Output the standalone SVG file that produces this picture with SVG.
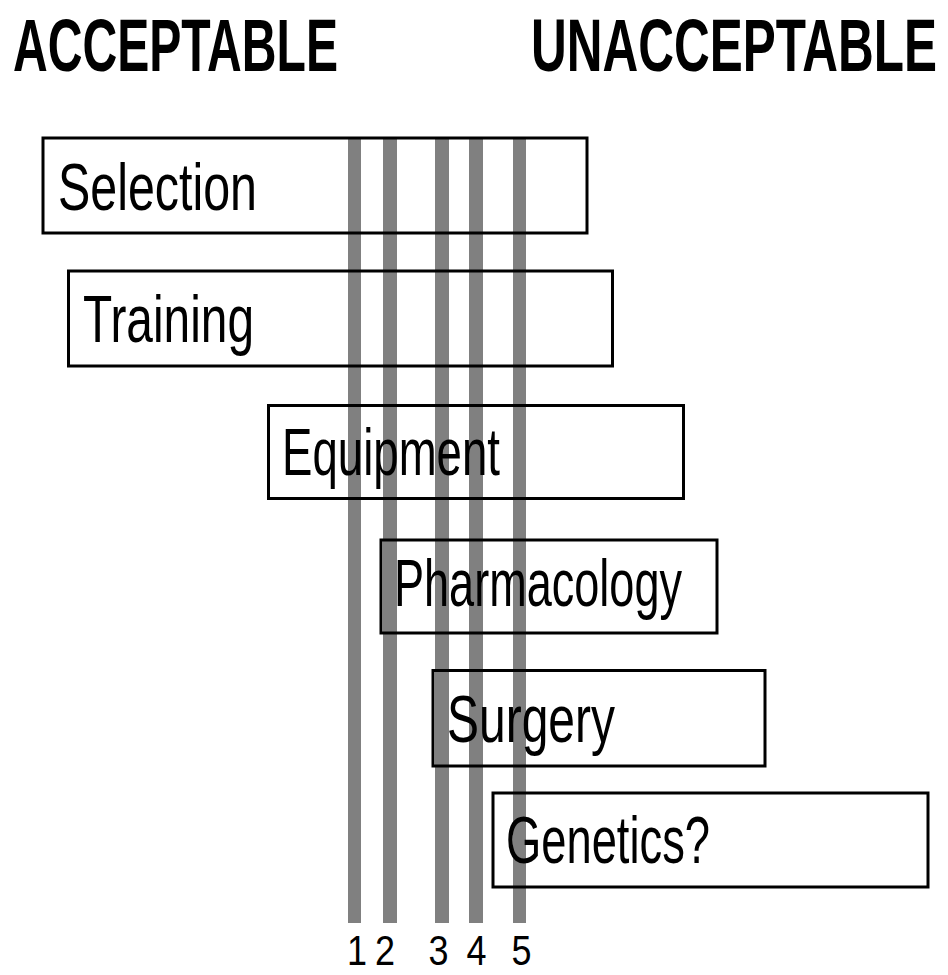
<svg xmlns="http://www.w3.org/2000/svg" width="948" height="975" viewBox="0 0 948 975">
<style>
.bar{fill:#808080}
.box{fill:none;stroke:#000;stroke-width:3}
.lbl{font-family:"Liberation Sans",sans-serif;font-size:66px;fill:#000}
.ttl{font-family:"Liberation Sans",sans-serif;font-size:50px;font-weight:bold;fill:#000}
.num{font-family:"Liberation Sans",sans-serif;font-size:42px;fill:#000;text-anchor:middle}
</style>
<rect width="948" height="975" fill="#fff"/>
<g id="titles">
<text class="ttl" transform="translate(13,71) scale(1,1.5)" x="0" y="0" textLength="325" lengthAdjust="spacingAndGlyphs">ACCEPTABLE</text>
<text class="ttl" transform="translate(531,71) scale(1,1.5)" x="0" y="0" textLength="406" lengthAdjust="spacingAndGlyphs">UNACCEPTABLE</text>
</g>
<g id="levels">
<rect class="bar" x="348" y="137" width="13" height="786"/>
<rect class="bar" x="383" y="137" width="14" height="786"/>
<rect class="bar" x="435" y="137" width="14" height="786"/>
<rect class="bar" x="469" y="137" width="14" height="786"/>
<rect class="bar" x="513" y="137" width="13" height="786"/>
</g>
<g id="selection">
<rect class="box" x="43" y="138" width="544" height="95"/>
<text class="lbl" x="58" y="210" textLength="199" lengthAdjust="spacingAndGlyphs">Selection</text>
</g>
<g id="training">
<rect class="box" x="68.5" y="271" width="544" height="95"/>
<text class="lbl" x="83" y="342" textLength="171" lengthAdjust="spacingAndGlyphs">Training</text>
</g>
<g id="equipment">
<rect class="box" x="268.5" y="405.5" width="415" height="93"/>
<text class="lbl" x="282" y="475" textLength="218" lengthAdjust="spacingAndGlyphs">Equipment</text>
</g>
<g id="pharmacology">
<rect class="box" x="381" y="540" width="336" height="93"/>
<text class="lbl" x="394" y="606" textLength="288" lengthAdjust="spacingAndGlyphs">Pharmacology</text>
</g>
<g id="surgery">
<rect class="box" x="433" y="670.5" width="332" height="95.5"/>
<text class="lbl" x="447" y="742" textLength="168" lengthAdjust="spacingAndGlyphs">Surgery</text>
</g>
<g id="genetics">
<rect class="box" x="493" y="793" width="435" height="94"/>
<text class="lbl" x="506" y="863" textLength="204" lengthAdjust="spacingAndGlyphs">Genetics?</text>
</g>
<g id="numbers">
<text class="num" x="357" y="965" textLength="20" lengthAdjust="spacingAndGlyphs">1</text>
<text class="num" x="385" y="965" textLength="20" lengthAdjust="spacingAndGlyphs">2</text>
<text class="num" x="438.5" y="965" textLength="20" lengthAdjust="spacingAndGlyphs">3</text>
<text class="num" x="476.5" y="965" textLength="20" lengthAdjust="spacingAndGlyphs">4</text>
<text class="num" x="521.5" y="965" textLength="20" lengthAdjust="spacingAndGlyphs">5</text>
</g>
</svg>
